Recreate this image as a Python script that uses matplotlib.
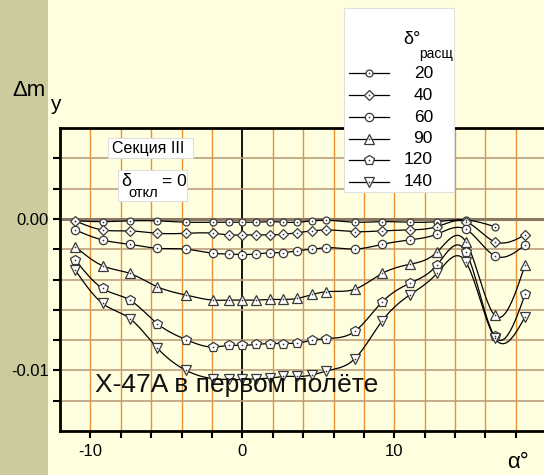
import numpy as np
import matplotlib
matplotlib.use("Agg")
import matplotlib.pyplot as plt
from matplotlib.patches import Rectangle
from matplotlib.lines import Line2D

plt.rcParams['font.family'] = ['Liberation Sans', 'DejaVu Sans']
plt.rcParams['axes.unicode_minus'] = False

# ---- data (values in units of 1e-3) ----
alpha = [-11, -9.2, -7.4, -5.6, -3.7, -1.9, -0.9, 0, 0.9, 1.8, 2.7, 3.6, 4.6,
         5.5, 7.4, 9.2, 11.0, 12.8, 14.7, 16.6, 18.6]
d20 = [-0.13, -0.18, -0.13, -0.13, -0.22, -0.22, -0.22, -0.22, -0.22, -0.18, -0.22,
       -0.22, -0.13, -0.09, -0.22, -0.18, -0.22, -0.18, -0.07, -0.51]
d40 = [-0.13, -0.73, -0.79, -0.95, -0.95, -0.95, -1.06, -1.06, -1.06, -1.06, -1.02,
       -0.91, -0.79, -0.73, -0.84, -0.79, -0.73, -0.51, -0.18, -1.50, -1.06]
d60 = [-0.73, -1.39, -1.68, -1.94, -2.00, -2.27, -2.32, -2.35, -2.32, -2.23, -2.23,
       -2.10, -2.00, -1.90, -1.99, -1.68, -1.39, -1.01, -0.68, -2.43, -1.72]
d90 = [-1.83, -3.09, -3.60, -4.48, -5.03, -5.36, -5.36, -5.36, -5.36, -5.32, -5.32,
       -5.25, -4.99, -4.81, -4.64, -3.60, -3.00, -2.20, -1.50, -6.36, -3.05]
d120 = [-2.70, -4.59, -5.36, -6.91, -7.97, -8.46, -8.35, -8.35, -8.28, -8.23, -8.23,
        -8.19, -8.01, -7.90, -7.42, -5.48, -4.26, -3.05, -2.16, -7.75, -4.99]
d140 = [-3.38, -5.58, -6.58, -8.52, -10.00, -10.55, -10.60, -10.60, -10.55, -10.51,
        -10.40, -10.40, -10.30, -10.05, -9.23, -6.73, -5.03, -3.60, -2.83, -7.84, -6.47]

series_labels = ['20', '40', '60', '90', '120', '140']
series_data = [d20, d40, d60, d90, d120, d140]
markers = ['o', 'D', 'o', '^', 'p', 'v']
msizes = [5.0, 5.5, 6.0, 7.5, 7.0, 7.5]

x_ticks = [-10, 0, 10]
y_ticks = [0.0, -0.01]
y_ticklabels = ['0.00', '-0.01']


def natural_spline(x, y, num=400):
    x = np.asarray(x, float)
    y = np.asarray(y, float)
    n = len(x)
    h = np.diff(x)
    A = np.zeros((n, n))
    b = np.zeros(n)
    A[0, 0] = 1
    A[-1, -1] = 1
    for i in range(1, n - 1):
        A[i, i - 1] = h[i - 1]
        A[i, i] = 2 * (h[i - 1] + h[i])
        A[i, i + 1] = h[i]
        b[i] = 3 * ((y[i + 1] - y[i]) / h[i] - (y[i] - y[i - 1]) / h[i - 1])
    c = np.linalg.solve(A, b)
    xs = np.linspace(x[0], x[-1], num)
    idx = np.clip(np.searchsorted(x, xs) - 1, 0, n - 2)
    dx = xs - x[idx]
    bc = (y[1:] - y[:-1]) / h - h * (2 * c[:-1] + c[1:]) / 3
    dc = (c[1:] - c[:-1]) / (3 * h)
    ys = y[idx] + bc[idx] * dx + c[idx] * dx ** 2 + dc[idx] * dx ** 3
    return xs, ys


W, H = 544, 475
fig = plt.figure(figsize=(W / 100, H / 100), dpi=100)
fig.patch.set_facecolor('#ffffe0')


def P(x, y):
    return (x / W, 1 - y / H)


# olive strip
fig.add_artist(Rectangle((0, 0), 48 / W, 1, transform=fig.transFigure,
                         facecolor='#cbcb9d', edgecolor='none', zorder=-1))

ax = fig.add_axes([60 / W, 1 - 431 / H, 1 - 60 / W, (431 - 128) / H])
ax.set_facecolor('#ffffe0')
ax.patch.set_alpha(0)
ax.set_xlim(-12.0, 19.85)
ax.set_ylim(-0.014, 0.006)

# grid
for gx in np.arange(-10, 19, 2):
    if gx == 0:
        ax.axvline(0, color='black', lw=1.3, zorder=1)
    else:
        ax.axvline(gx, color='#e8902e', lw=1.0, zorder=1)
for gy in np.arange(-0.012, 0.0041, 0.002):
    if abs(gy) < 1e-9:
        ax.axhline(0, color='#8a7862', lw=2.2, zorder=1)
    else:
        ax.axhline(gy, color='#bca07c', lw=1.2, zorder=1)

# series
for data, m, ms in zip(series_data, markers, msizes):
    xa = np.array(alpha[:len(data)])
    ya = np.array(data) * 1e-3
    xs, ys = natural_spline(xa, ya)
    ax.plot(xs, ys, color='black', lw=0.9, zorder=3)
    ax.plot(xa, ya, linestyle='none', marker=m, ms=ms, mfc='white',
            mec='#3a3a3a', mew=0.9, zorder=4)
    ax.plot(xa, ya, linestyle='none', marker='o', ms=1.2, mfc='#333333',
            mec='none', zorder=5)

# spines & ticks
for s in ['left', 'bottom', 'top']:
    ax.spines[s].set_linewidth(2)
    ax.spines[s].set_color('black')
ax.spines['right'].set_visible(False)
ax.set_xticks(x_ticks)
ax.set_xticks(np.arange(-10, 19, 2), minor=True)
ax.set_yticks(y_ticks)
ax.set_yticklabels(y_ticklabels)
ax.set_yticks(np.arange(-0.012, 0.0041, 0.002), minor=True)
ax.tick_params(which='both', direction='out', length=5, width=1.5, color='black')
ax.tick_params(axis='both', labelsize=12, pad=4)
ax.tick_params(axis='y', pad=3)

# annotations inside plot
fig.text(*P(95, 385), 'X-47A в первом полёте', fontsize=19, ha='left',
         va='center', color='#111111', zorder=10)

fig.add_artist(Rectangle(P(108, 158), 85 / W, 20 / H, transform=fig.transFigure,
                         facecolor='white', edgecolor='#dddddd', lw=0.8, zorder=6))
fig.text(*P(112, 148), 'Секция III', fontsize=11.5, ha='left', va='center', zorder=7)

fig.add_artist(Rectangle(P(118, 201), 69 / W, 31 / H, transform=fig.transFigure,
                         facecolor='white', edgecolor='#dddddd', lw=0.8, zorder=6))
fig.text(*P(121, 182), 'δ', fontsize=13, ha='left', va='center', zorder=7)
fig.text(*P(128, 193), 'откл', fontsize=10.5, ha='left', va='center', zorder=7)
fig.text(*P(162, 182), '= 0', fontsize=12.5, ha='left', va='center', zorder=7)

# axis labels
fig.text(*P(12, 90), 'Δm', fontsize=16, ha='left', va='center')
fig.text(*P(50, 105), 'y', fontsize=15, ha='left', va='center')
fig.text(*P(507, 463), 'α°', fontsize=16, ha='left', va='center')

# legend
fig.add_artist(Rectangle(P(344, 192), 110 / W, 184 / H, transform=fig.transFigure,
                         facecolor='white', edgecolor='#e0e0e0', lw=0.8, zorder=8))
fig.text(*P(403, 40), 'δ°', fontsize=13, ha='left', va='center', zorder=9)
fig.text(*P(419, 54), 'расщ', fontsize=10, ha='left', va='center', zorder=9)
rows = [73, 95, 117, 139, 160, 182]
for lab, m, ms, ry in zip(series_labels, markers, msizes, rows):
    x0, y0 = P(349, ry)
    x1, _ = P(389, ry)
    xm, _ = P(369, ry)
    fig.add_artist(Line2D([x0, x1], [y0, y0], transform=fig.transFigure,
                          color='black', lw=0.9, zorder=9))
    fig.add_artist(Line2D([xm], [y0], transform=fig.transFigure, marker=m, ms=ms,
                          mfc='white', mec='#3a3a3a', mew=0.9, zorder=10))
    fig.add_artist(Line2D([xm], [y0], transform=fig.transFigure, marker='o', ms=1.2,
                          mfc='#333333', mec='none', zorder=11))
    fig.text(*P(433, ry), lab, fontsize=12.5, ha='right', va='center', zorder=10)

fig.savefig('out.png', dpi=100, facecolor=fig.get_facecolor())
